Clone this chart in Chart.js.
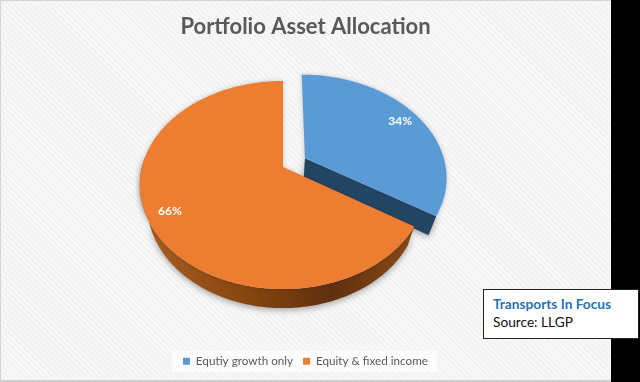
<!DOCTYPE html>
<html lang="en">
  <head>
    <meta charset="UTF-8" />
    <title>Portfolio Asset Allocation</title>
    <script src="https://cdn.jsdelivr.net/npm/chart.js"></script>
    <style>
      html, body { margin: 0; padding: 0; background: #000; overflow: hidden; }
      #panel {
        position: absolute; left: 0; top: 0; width: 610px; height: 379px;
        border: 1px solid #d4d4d4; border-right: none; border-bottom: 2px solid #cfcfcf;
        background: repeating-linear-gradient(45deg, #f8f8f8 0, #f8f8f8 2px, #f2f2f2 2px, #f2f2f2 4px);
      }
      #chart { position: absolute; left: 0; top: 0; }
      #note {
        position: absolute; left: 483px; top: 289px; width: 145px; height: 43px;
        padding: 5px 0 0 9px; background: #fff; border: 1px solid #222;
        font: 13.7px/18px Lato, sans-serif; color: #111;
      }
      #note b { color: #1f74b6; display: block; }
    </style>
  </head>
  <body>
    <div id="panel"></div>
    <canvas id="chart" width="611" height="382"></canvas>
    <div id="note"><b>Transports In Focus</b>Source: LLGP</div>
    <script>
      const categories = ["Equtiy growth only", "Equity & fixed income"];
      const shares = [34, 66];
      const colors = ["#5b9bd5", "#ed7d31"];

      // tilted view of the pie: the slices keep the angles chart.js worked out,
      // only the projection on screen is done here
      const apexX = 283, apexY = 167;
      const squash = 0.716, tilt = 0.173, depth = 19, explode = 0.18;

      function project(el, u, v) {
        const w = 1 - tilt * v;
        return [apexX + el.outerRadius * u / w, apexY + el.outerRadius * squash * v / w];
      }
      function explodeOf(el, i) {
        if (i != 0) return [0, 0];
        const mid = (el.startAngle + el.endAngle) / 2;
        return [explode * Math.cos(mid), explode * Math.sin(mid)];
      }
      function rimPoints(el, i, from, to) {
        const off = explodeOf(el, i), pts = [];
        const steps = Math.ceil(Math.abs(to - from) / 0.02);
        for (let s = 0; s <= steps; s++) {
          const a = from + (to - from) * s / steps;
          pts.push(project(el, off[0] + Math.cos(a), off[1] + Math.sin(a)));
        }
        return pts;
      }
      function lower(p) {
        return [p[0] - (p[0] - apexX) * 0.05, p[1] + depth];
      }
      function fillPath(ctx, pts, fill) {
        ctx.beginPath();
        pts.forEach((p, k) => (k ? ctx.lineTo(p[0], p[1]) : ctx.moveTo(p[0], p[1])));
        ctx.closePath();
        ctx.fillStyle = fill;
        ctx.fill();
      }

      const tiltedPie = {
        id: "tiltedPie",
        beforeDraw(chart) {
          const ctx = chart.ctx;
          ctx.fillStyle = "rgba(255,255,255,0.75)";
          ctx.fillRect(172, 351, 265, 21);
        },
        beforeDatasetDraw(chart) {
          const ctx = chart.ctx;
          const arcs = chart.getDatasetMeta(0).data;
          const blue = arcs[0], orange = arcs[1];
          ctx.save();
          ctx.shadowColor = "rgba(0,0,0,0.35)";
          ctx.shadowBlur = 6;
          ctx.shadowOffsetY = 2;

          // cut face of the pulled out slice
          const off = explodeOf(blue, 0);
          const hub = project(blue, off[0], off[1]);
          const rimEnd = project(blue, off[0] + Math.cos(blue.endAngle), off[1] + Math.sin(blue.endAngle));
          fillPath(ctx, [hub, rimEnd, lower(rimEnd), lower(hub)], "#234564");

          // outer wall of the big slice
          const rim = rimPoints(orange, 1, orange.startAngle, Math.PI * 1.03);
          const wall = ctx.createLinearGradient(140, 0, 414, 0);
          wall.addColorStop(0, "#ad5f22");
          wall.addColorStop(0.4, "#85450f");
          wall.addColorStop(0.7, "#5f3010");
          wall.addColorStop(1, "#8a4a16");
          fillPath(ctx, rim.concat(rim.map(lower).reverse()), wall);

          // top faces
          ctx.shadowBlur = 4;
          ctx.shadowOffsetY = 0;
          ctx.shadowColor = "rgba(0,0,0,0.2)";
          arcs.forEach((el, i) => {
            const o = explodeOf(el, i);
            const pts = [project(el, o[0], o[1])].concat(rimPoints(el, i, el.startAngle, el.endAngle));
            fillPath(ctx, pts, colors[i]);
          });
          ctx.restore();

          // value labels
          ctx.save();
          ctx.font = "bold 12px Lato, sans-serif";
          ctx.fillStyle = "#fff";
          ctx.textAlign = "center";
          ctx.textBaseline = "middle";
          arcs.forEach((el, i) => {
            const o = explodeOf(el, i);
            const mid = (el.startAngle + el.endAngle) / 2;
            const p = project(el, o[0] + 0.85 * Math.cos(mid), o[1] + 0.85 * Math.sin(mid));
            ctx.fillText(shares[i] + "%", p[0], p[1]);
          });
          ctx.restore();
          return false;
        },
      };

      new Chart(document.getElementById("chart"), {
        type: "pie",
        data: {
          labels: categories,
          datasets: [{ data: shares, backgroundColor: colors, borderWidth: 0, radius: 141 }],
        },
        plugins: [tiltedPie],
        options: {
          responsive: false,
          animation: false,
          layout: { padding: { bottom: 5, top: 8 } },
          plugins: {
            title: {
              display: true,
              text: "Portfolio Asset Allocation",
              color: "#595959",
              font: { family: "Lato, sans-serif", size: 22, weight: "bold" },
              padding: { top: 6, bottom: 8 },
            },
            legend: {
              position: "bottom",
              labels: {
                boxWidth: 7,
                boxHeight: 7,
                padding: 10,
                color: "#595959",
                font: { family: "Lato, sans-serif", size: 11.7 },
              },
            },
            tooltip: { enabled: false },
          },
        },
      });
    </script>
  </body>
</html>
